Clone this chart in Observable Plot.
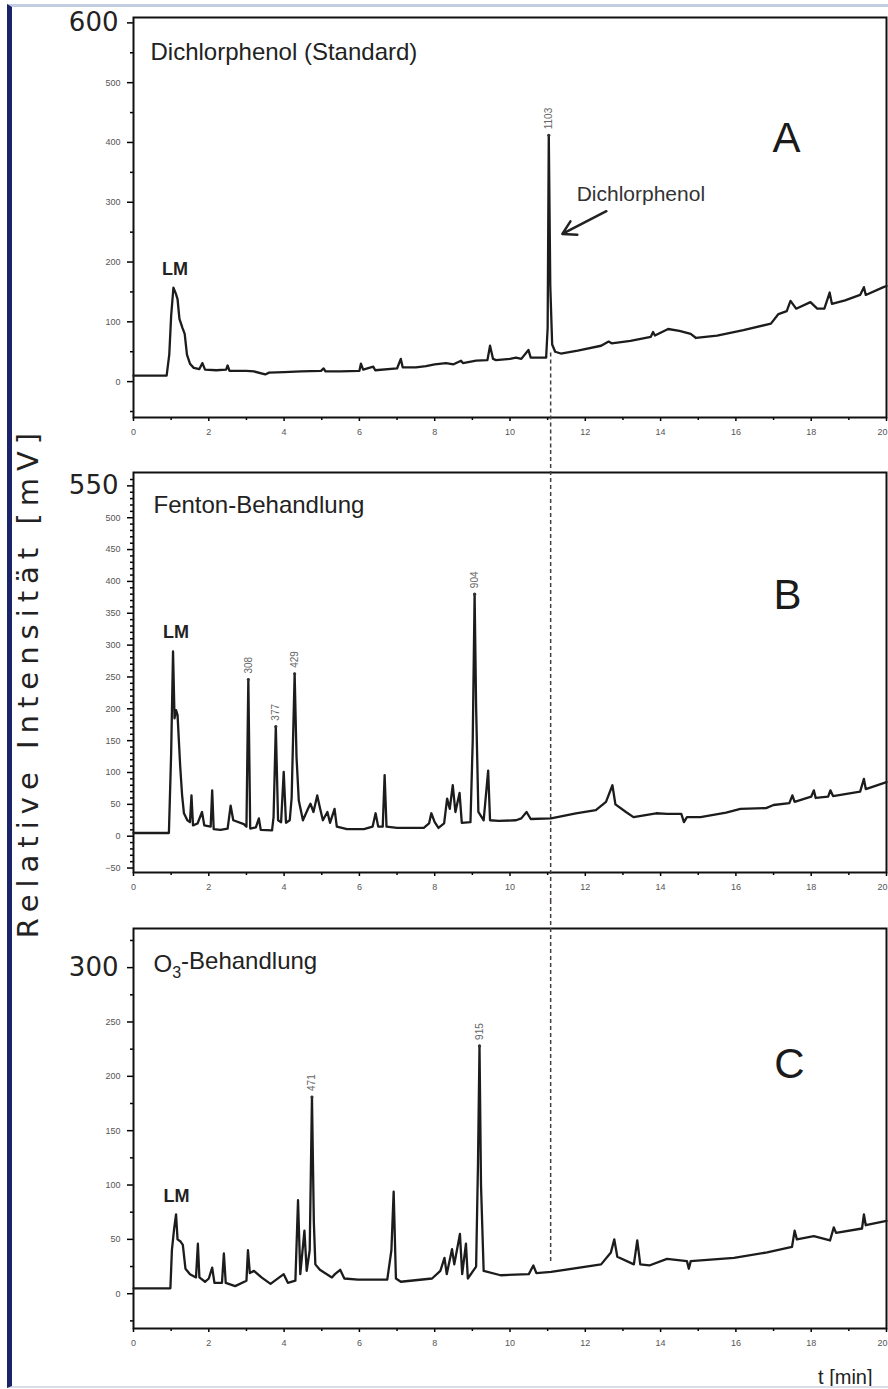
<!DOCTYPE html>
<html><head><meta charset="utf-8">
<script src="https://cdn.jsdelivr.net/npm/d3@7"></script>
<script src="https://cdn.jsdelivr.net/npm/@observablehq/plot@0.6"></script>
<style>
html,body{margin:0;padding:0;background:#fff;}
#wrap{position:relative;width:888px;height:1389px;overflow:hidden;background:#fff;}
#charts svg{display:block;}
#border{position:absolute;left:7px;top:4px;right:-5px;bottom:1px;border-left:5px solid #1b2468;border-top:3px solid #c3cde2;border-bottom:2px solid #d8dde8;pointer-events:none;}
#ytitle{position:absolute;left:28px;top:682px;transform:translate(-50%,-50%) rotate(-90deg);font-family:"DejaVu Sans",sans-serif;font-size:29px;letter-spacing:7px;white-space:nowrap;line-height:1;color:#222;}
</style></head><body>
<div id="wrap"><div id="charts"></div><div id="border"></div><div id="ytitle">Relative Intensität [mV]</div></div>
<script>
// ---------- data ----------
const xMajorTicks = [0,2,4,6,8,10,12,14,16,18,20];
const xLabelTicks = [0,2,4,6,8,10,12,14,16,18];
const xEdgeTick = [20];
const xMinorTicks = [1,3,5,7,9,11,13,15,17,19];
const dashedT = 11.08;

const titles = ["Dichlorphenol (Standard)", "Fenton-Behandlung", "O3-Behandlung"];
const letters = ["A", "B", "C"];

const yTicksA = [0,100,200,300,400,500];
const yMinorA = [-50,50,150,250,350,450,550];
const yBigA = [600];
const yTicksB = [-50,0,50,100,150,200,250,300,350,400,450,500];
const yBigB = [550];
const yTicksC = [0,50,100,150,200,250];
const yMinorC = [-25,25,75,125,175,225,275,325];
const yBigC = [300];

const traceA = [[0,10],[0.88,10],[0.95,45],[1.0,110],[1.06,157],[1.12,148],[1.17,138],[1.22,105],[1.3,90],[1.36,80],[1.42,45],[1.5,30],[1.6,23],[1.75,21],[1.83,31],[1.9,20],[2.2,19],[2.46,20],[2.5,27],[2.55,18],[3.0,18],[3.2,17],[3.5,12],[3.6,15],[4.0,16],[4.45,17],[4.98,18],[5.05,22],[5.1,17],[5.5,17],[6.0,18],[6.04,30],[6.1,20],[6.37,25],[6.42,19],[7.0,22],[7.1,38],[7.15,24],[7.5,24],[7.77,26],[8.0,29],[8.3,31],[8.5,29],[8.7,35],[8.75,31],[9.1,35],[9.4,36],[9.47,60],[9.55,38],[9.63,36],[10.0,38],[10.16,40],[10.3,38],[10.49,53],[10.55,40],[10.96,40],[11.0,90],[11.03,412],[11.07,160],[11.12,62],[11.2,50],[11.35,47],[11.8,52],[12.42,60],[12.62,67],[12.7,64],[13.2,68],[13.74,75],[13.8,83],[13.85,77],[14.2,88],[14.5,85],[14.8,80],[14.94,73],[15.5,77],[16.2,86],[16.93,97],[17.13,113],[17.35,118],[17.45,135],[17.6,122],[17.98,133],[18.16,122],[18.35,122],[18.49,149],[18.55,130],[18.9,136],[19.3,145],[19.4,158],[19.45,145],[19.92,158],[20,160]];

const traceB = [[0,5],[0.94,5],[1.0,130],[1.05,290],[1.09,185],[1.13,198],[1.17,190],[1.24,110],[1.29,65],[1.34,36],[1.43,25],[1.5,22],[1.54,64],[1.58,17],[1.7,20],[1.82,38],[1.88,17],[2.05,15],[2.09,72],[2.13,11],[2.31,10],[2.5,12],[2.58,48],[2.65,25],[2.93,19],[3.0,15],[3.05,246],[3.1,12],[3.25,14],[3.33,28],[3.38,10],[3.68,9],[3.72,30],[3.78,172],[3.84,25],[3.92,22],[3.99,101],[4.05,21],[4.15,25],[4.2,60],[4.28,255],[4.33,124],[4.39,56],[4.5,25],[4.65,45],[4.7,51],[4.78,38],[4.88,64],[4.95,45],[5.03,25],[5.15,38],[5.22,21],[5.34,43],[5.4,15],[5.67,11],[6.12,11],[6.35,15],[6.43,36],[6.5,15],[6.62,15],[6.67,96],[6.72,15],[7.0,13],[7.71,13],[7.85,20],[7.91,36],[8.0,22],[8.1,13],[8.25,20],[8.33,59],[8.4,43],[8.48,80],[8.55,38],[8.66,68],[8.72,21],[8.95,22],[9.01,150],[9.06,380],[9.1,203],[9.16,38],[9.3,25],[9.42,103],[9.47,25],[9.7,24],[10.16,25],[10.3,28],[10.44,38],[10.55,27],[11.09,28],[11.75,36],[12.28,41],[12.55,54],[12.72,80],[12.8,50],[13.08,38],[13.28,30],[13.88,36],[14.17,35],[14.55,35],[14.62,22],[14.7,30],[15.06,30],[15.74,37],[16.12,43],[16.8,44],[17.0,49],[17.42,52],[17.5,64],[17.56,54],[18.0,62],[18.07,72],[18.12,60],[18.45,62],[18.51,72],[18.58,63],[19.3,70],[19.4,90],[19.45,74],[20,85]];

const traceC = [[0,5],[0.98,5],[1.02,40],[1.08,60],[1.13,73],[1.17,50],[1.25,48],[1.31,45],[1.38,23],[1.5,18],[1.66,15],[1.71,46],[1.75,15],[1.9,11],[2.0,14],[2.09,24],[2.15,10],[2.35,10],[2.4,37],[2.45,10],[2.7,7],[3.0,12],[3.04,40],[3.09,19],[3.2,21],[3.4,15],[3.64,9],[3.99,18],[4.1,10],[4.3,12],[4.37,86],[4.43,18],[4.54,58],[4.6,21],[4.68,40],[4.74,181],[4.79,66],[4.83,27],[4.95,22],[5.27,15],[5.35,18],[5.49,22],[5.6,14],[5.96,13],[6.74,13],[6.85,40],[6.91,94],[6.97,14],[7.1,11],[7.93,14],[8.15,21],[8.26,33],[8.32,18],[8.46,41],[8.52,27],[8.67,55],[8.73,18],[8.83,46],[8.88,14],[9.1,25],[9.15,120],[9.19,228],[9.23,100],[9.3,21],[9.75,17],[10.5,18],[10.62,26],[10.7,19],[11.09,20],[12.42,27],[12.68,38],[12.77,50],[12.85,34],[13.29,27],[13.38,49],[13.46,27],[13.7,26],[14.17,32],[14.7,30],[14.75,23],[14.8,30],[15.95,33],[16.83,38],[17.49,43],[17.56,58],[17.62,50],[18.07,53],[18.5,49],[18.6,61],[18.66,56],[19.35,60],[19.4,73],[19.45,63],[20,67]];

const peaksA = [{t:11.03, v:412, label:"1103"}];
const peaksB = [{t:3.05, v:246, label:"308"},{t:3.78, v:172, label:"377"},{t:4.28, v:255, label:"429"},{t:9.06, v:380, label:"904"}];
const peaksC = [{t:4.74, v:181, label:"471"},{t:9.19, v:228, label:"915"}];

const lmA = [{t:1.10, v:188}];
const lmB = [{t:1.13, v:321}];
const lmC = [{t:1.14, v:90}];

const dcpLabel = [{t:11.77, v:313, text:"Dichlorphenol"}];
const dcpArrow = [{t1:12.56, v1:285, t2:11.39, v2:247}];
const dashA = [{t:dashedT, v1:48, v2:-60}];
const dashC = [{t:dashedT, v1:336, v2:28}];

// ---------- drawing ----------
const W = 888, ML = 133, MR = 2;
const font = "Liberation Sans, Arial, sans-serif";
const tickFont = "Liberation Sans Narrow, Liberation Sans, sans-serif";
const dashStyle = {stroke: "#4a3d4a", strokeWidth: 1.5, strokeDasharray: "4,3"};

function panel(cfg) {
  const marks = [
    Plot.axisY({ticks: cfg.yTicks, tickSize: 6, strokeWidth: 1.5, tickFormat: () => "", label: null}),
    Plot.axisY({ticks: cfg.yMinor, tickSize: 3, strokeWidth: 1.5, tickFormat: () => "", label: null}),
    Plot.axisY({ticks: cfg.yTicks, tickSize: 0, tickPadding: 13, fontSize: 9, fontFamily: tickFont, fill: "#555", label: null}),
    Plot.axisY({ticks: cfg.yBig, tickSize: 6, strokeWidth: 1.5, tickPadding: 9, fontSize: 26, fontFamily: "DejaVu Sans, sans-serif", fill: "#222", label: null}),
    Plot.axisX({ticks: xMajorTicks, tickSize: 4, strokeWidth: 1.5, tickFormat: () => "", label: null}),
    Plot.axisX({ticks: xMinorTicks, tickSize: 3, strokeWidth: 1.5, tickFormat: () => "", label: null}),
    Plot.axisX({ticks: xLabelTicks, tickSize: 0, tickPadding: 11, fontSize: 9, fontFamily: tickFont, fill: "#555", label: null}),
    Plot.axisX({ticks: xEdgeTick, tickSize: 0, tickPadding: 11, textAnchor: "end", dx: 1, fontSize: 9, fontFamily: tickFont, fill: "#555", label: null}),
    Plot.frame({stroke: "#111", strokeWidth: 2}),
    cfg.rule,
    Plot.line(cfg.trace, {x: d => d[0], y: d => d[1], stroke: "#1c1c1c", strokeWidth: 2.3, strokeLinejoin: "round"}),
    Plot.dot(cfg.peaks, {x: "t", y: "v", r: 1.6, fill: "#333"}),
    Plot.text(cfg.peaks, {x: "t", y: "v", text: "label", rotate: -90, textAnchor: "start", lineAnchor: "middle", dy: -6, fontSize: 10, fontFamily: tickFont, fill: "#666"}),
    Plot.text(cfg.lm, {x: "t", y: "v", text: () => "LM", fontWeight: "bold", fontSize: 18, fontFamily: font, fill: "#222"}),
    Plot.text([cfg.title], {frameAnchor: "top-left", textAnchor: "start", lineAnchor: "middle", dx: cfg.titleDx, dy: cfg.titleDy, fontSize: 24, fontFamily: font, fill: "#222"}),
    Plot.text([cfg.letter], {frameAnchor: "top-left", textAnchor: "middle", lineAnchor: "middle", dx: cfg.letterDx, dy: cfg.letterDy, fontSize: 42, fontFamily: font, fill: "#1a1a1a"}),
    ...(cfg.extra || [])
  ];
  return Plot.plot({
    width: W, height: cfg.height,
    marginLeft: ML, marginRight: MR, marginTop: cfg.mt, marginBottom: cfg.mb,
    style: {background: "transparent", overflow: "visible"},
    x: {domain: [0, 20]},
    y: {domain: cfg.yDomain},
    marks
  });
}

const mtA = 17, mbA = 33, mtB = 22, mbB = 28, mtC = 28, mbC = 61;

const A = panel({
  trace: traceA, height: 450, mt: mtA, mb: mbA, yDomain: [-60, 609],
  yTicks: yTicksA, yMinor: yMinorA, yBig: yBigA,
  peaks: peaksA, lm: lmA, title: titles[0], titleDx: 17, titleDy: 35,
  letter: letters[0], letterDx: 653, letterDy: 121,
  rule: Plot.ruleX(dashA, {x: "t", y1: "v1", y2: "v2", insetBottom: -mbA, ...dashStyle}),
  extra: [
    Plot.text(dcpLabel, {x: "t", y: "v", text: "text", textAnchor: "start", fontSize: 21, fontFamily: font, fill: "#333"}),
    Plot.arrow(dcpArrow, {x1: "t1", y1: "v1", x2: "t2", y2: "v2", stroke: "#222", strokeWidth: 2.5, headLength: 9})
  ]
});

const B = panel({
  trace: traceB, height: 450, mt: mtB, mb: mbB, yDomain: [-57, 571],
  yTicks: yTicksB, yMinor: d3.range(-50, 561, 10).filter(v => v % 50 !== 0), yBig: yBigB,
  peaks: peaksB, lm: lmB, title: titles[1], titleDx: 20, titleDy: 33,
  letter: letters[1], letterDx: 654, letterDy: 123,
  rule: Plot.ruleX([dashedT], {insetTop: -mtB, insetBottom: -mbB, ...dashStyle})
});

const C = panel({
  trace: traceC, height: 489, mt: mtC, mb: mbC, yDomain: [-32, 336],
  yTicks: yTicksC, yMinor: yMinorC, yBig: yBigC,
  peaks: peaksC, lm: lmC, title: titles[2], titleDx: 20, titleDy: 36,
  letter: letters[2], letterDx: 656, letterDy: 136,
  rule: Plot.ruleX(dashC, {x: "t", y1: "v1", y2: "v2", insetTop: -mtC, ...dashStyle}),
  extra: [
    Plot.text(["t [min]"], {frameAnchor: "bottom-right", textAnchor: "end", lineAnchor: "middle", dx: -14, dy: 49, fontSize: 20, fontFamily: font, fill: "#222"})
  ]
});

const host = document.getElementById("charts");
host.append(A, B, C);

// subscript 3 in "O3-Behandlung"
d3.select(C).selectAll("text").each(function() {
  if (this.textContent === "O3-Behandlung") {
    const t = d3.select(this);
    t.text(null);
    t.append("tspan").text("O");
    t.append("tspan").attr("font-size", 16).attr("dy", "0.35em").text("3");
    t.append("tspan").attr("dy", "-0.35em").attr("font-size", 24).text("-Behandlung");
  }
});
</script></body></html>
